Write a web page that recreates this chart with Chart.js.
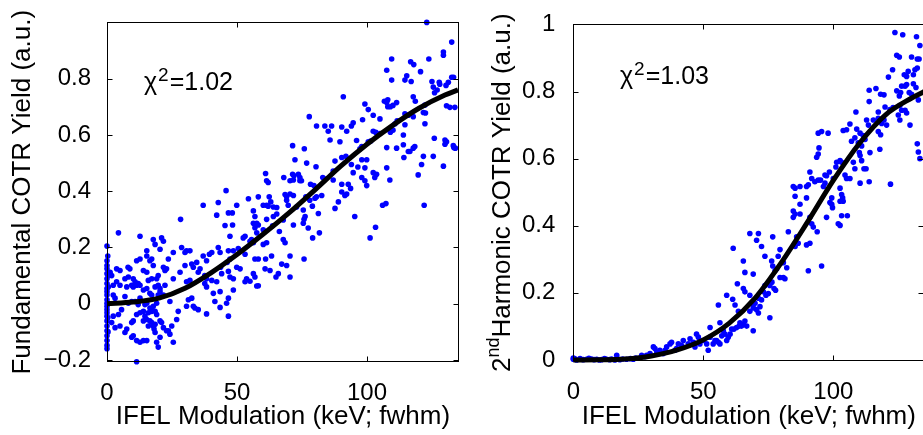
<!DOCTYPE html>
<html><head><meta charset="utf-8">
<script src="https://cdn.jsdelivr.net/npm/chart.js@4"></script>
<style>
html,body{margin:0;padding:0;background:#fff;overflow:hidden;width:923px;height:435px;position:relative}
#c1{position:absolute;left:0;top:0}
#c2{position:absolute;left:460px;top:0}
</style></head><body>
<canvas id="c1" width="470" height="435"></canvas>
<canvas id="c2" width="470" height="435"></canvas>
<script>
const FONT = "'Liberation Sans', Arial, Helvetica, sans-serif";

const xTicks = [0, 50, 100];
const fundYTicks = [-0.2, 0, 0.2, 0.4, 0.6, 0.8];
const harmYTicks = [0, 0.2, 0.4, 0.6, 0.8, 1];

const xTitle = 'IFEL Modulation (keV; fwhm)';
const fundYTitle = 'Fundamental COTR Yield (a.u.)';
const harmYTitleParts = ['2', 'nd', 'Harmonic COTR Yield (a.u.)'];
const fundChi = '=1.02';
const harmChi = '=1.03';

const fitX = [0, 10, 20, 30, 40, 50, 60, 70, 80, 90, 100, 110, 120, 130, 135];
const fundFitY = [0, 0.006, 0.02, 0.055, 0.11, 0.175, 0.247, 0.323, 0.405, 0.49, 0.567, 0.635, 0.695, 0.742, 0.760];
const harmFitY = [0, 0.0005, 0.003, 0.012, 0.03, 0.06, 0.11, 0.185, 0.29, 0.41, 0.535, 0.645, 0.73, 0.78, 0.80];

const fundPoints = [
[0,0.205],[0,0.153],[0,0.136],[0,0.124],[0,0.107],[0,0.089],[0,0.072],[0,0.054],[0,0.043],[0,0.031],[0,0.014],[0,0.002],[0,-0.009],[0,-0.021],[0,-0.032],[0,-0.044],[0,-0.061],[0,-0.079],[0,-0.096],[0,-0.114],[0,-0.131],[0,-0.148],[0,-0.16],
[0.4,0.1],[0.5,0.06],[0.4,-0.1],[0.3,0.17],[0.3,-0.05],
[123,1.0],[132.6,0.93],[129.4,0.895],[129.4,0.883],[109.5,0.87],[116.8,0.86],[118,0.85],[123.8,0.87],[107.6,0.83],[120.6,0.825],[132.6,0.805],[133.3,0.805],[115.3,0.81],[109.5,0.795],[114.6,0.795],[117,0.79],[125,0.79],[127.8,0.787],[131.3,0.787],[125.5,0.77],[128,0.78],[130.4,0.776],[126,0.75],[127,0.76],[90.9,0.736],[117.8,0.736],[106.7,0.72],[107.6,0.715],[108,0.725],[111.4,0.715],[118.6,0.72],[99.2,0.71],[108,0.70],[109,0.70],[110,0.705],[122.3,0.706],[130.6,0.704],[131.9,0.698],[133.8,0.698],[100.5,0.69],[121.7,0.68],[122.5,0.678],[114.6,0.675],[115.9,0.67],[117.8,0.665],[77.8,0.665],[102.4,0.67],[105,0.657],[98.3,0.654],[94.7,0.643],[111.6,0.65],[110.8,0.64],[94,0.632],[86.4,0.632],[83.8,0.632],[80.6,0.632],[90.3,0.628],[114.6,0.636],[122.3,0.64],[92.2,0.613],[85.1,0.613],[102.4,0.613],[103.4,0.609],[100.5,0.576],[101.4,0.578],[105,0.605],[114,0.60],[109,0.61],[110,0.617],[130,0.582],[130,0.567],[133.4,0.555],[134,0.553],[133.2,0.562],[125.9,0.588],[130.6,0.576],[85.8,0.582],[89.6,0.576],[96,0.58],[107.6,0.555],[111.4,0.553],[114,0.565],[117.8,0.553],[118.4,0.559],[115.9,0.541],[116.5,0.541],[114.2,0.52],[121.7,0.524],[125.5,0.524],[98,0.559],[97.3,0.551],[91.9,0.524],[90.3,0.52],[87.7,0.507],[99.9,0.512],[98,0.512],[94,0.495],[96.5,0.486],[99.2,0.483],[107.6,0.483],[121,0.495],[129.4,0.489],[87,0.472],[94.7,0.466],[102.4,0.466],[103.7,0.46],[119.7,0.458],[103,0.449],[98,0.449],[99.2,0.437],[108.8,0.44],[83,0.449],[83.8,0.443],[87,0.44],[90.3,0.425],[92.8,0.425],[99.9,0.42],[93.7,0.41],[90.3,0.397],[91.5,0.385],[92.2,0.39],[89,0.362],[87.7,0.339],[82.6,0.385],[80.6,0.38],[80,0.375],[79.6,0.42],[78.3,0.425],[81.3,0.321],[95.3,0.31],[103.3,0.272],[101.2,0.234],[106,0.35],[107.3,0.356],[122,0.35],
[71.4,0.562],[75.9,0.551],[72.3,0.512],[76.8,0.50],[80.4,0.487],[71.4,0.46],[71.9,0.455],[73.6,0.46],[74.2,0.449],[68,0.449],[74.2,0.437],[74.8,0.437],[70.4,0.437],[71.7,0.44],[61,0.463],[61.4,0.437],[62,0.431],[68.5,0.388],[70.4,0.39],[71.7,0.385],[76.5,0.38],[78,0.368],[69.1,0.38],[69.1,0.368],[69.7,0.35],[72.9,0.344],[75.5,0.333],[79,0.347],[54.4,0.373],[58.2,0.38],[62.4,0.38],[63,0.362],[60.1,0.35],[61.4,0.35],[62,0.347],[64,0.344],[65.3,0.342],[49.9,0.35],[37,0.35],[42.8,0.36],[42.2,0.315],[46.7,0.323],[48.2,0.323],[45.8,0.402],[28.3,0.30],[45.4,0.278],[48.3,0.28],[56.3,0.33],[56.9,0.31],[56.3,0.286],[57.6,0.286],[58.2,0.28],[61.4,0.30],[67.8,0.298],[64,0.31],[65.3,0.319],[63.7,0.277],[66.3,0.257],[60.1,0.263],[56.9,0.27],[57.6,0.252],[55.6,0.228],[55,0.222],[56.3,0.217],[53.1,0.24],[52.4,0.234],[60.1,0.211],[61.4,0.217],[67.8,0.228],[68.5,0.217],[71.7,0.28],[75.5,0.286],[77.4,0.269],[79.1,0.234],[81.7,0.252],[75.8,0.30],[76.2,0.31],[47.3,0.24],[42.8,0.2],[43.5,0.182],[40.3,0.182],[39.4,0.176],[46.7,0.188],[48.6,0.188],[50.5,0.196],[53.1,0.176],[56.9,0.159],[58.2,0.159],[61,0.159],[63.3,0.17],[67.2,0.141],[69.1,0.136],[70.4,0.17],[75.8,0.159],[70.4,0.095],[65.9,0.107],[65,0.095],[62.7,0.118],[60.8,0.124],[56.3,0.107],[56.9,0.095],[55,0.08],[57.6,0.063],[58.2,0.064],[53.7,0.089],[53.1,0.078],[51.2,0.124],[49.9,0.13],[46.2,0.147],[47.3,0.159],[43.7,0.13],[44.1,0.107],[46.7,0.115],[47.3,0.095],[48.6,0.089],[37,0.17],[38.3,0.153],[32.6,0.141],[33.2,0.13],[30,0.182],[30.6,0.188],[28.7,0.2],[31.9,0.188],[25.5,0.182],[23.6,0.159],[22.9,0.124],[30,0.136],[28.1,0.112],[25.5,0.089],[34.5,0.147],[35.8,0.124],[35.1,0.112],[37.6,0.1],[38.3,0.089],[40.3,0.083],[38.3,0.06],[37.6,0.072],[30.6,0.078],[31.9,0.083],[42.2,0.078],[40.9,0.037],[43.5,0.043],[41.5,0.008],[31.3,0.014],[32.6,0.02],[30.6,-0.009],[33.2,-0.009],[33.8,-0.015],[35.1,-0.021],[38.3,-0.036],[43.5,-0.013],[46,0.002],[46.7,0.02],[46.7,-0.044],[48.6,0.049],[27.4,-0.027],[26.8,-0.056],[24.9,-0.079],[25.5,-0.137],[23.6,-0.096],[24.2,-0.108],[21.7,-0.085],[22.9,-0.096],[20.4,-0.119],[19.7,-0.154],[19.1,-0.137],[18.5,-0.102],[18.1,-0.09],[17.2,-0.067],[15.9,-0.079],[15.3,-0.056],[16.5,-0.061],[14,-0.061],[14.6,-0.044],[12.7,-0.032],[11.4,-0.038],[10.1,-0.061],[9.5,-0.067],[11.4,-0.131],[12.7,-0.137],[14,-0.131],[15.3,-0.131],[10.1,-0.114],[9.5,-0.119],[7.6,-0.09],[6.9,-0.102],[5,-0.079],[3.1,-0.085],[4.4,-0.038],[5.6,-0.021],[11.4,-0.206],[3.1,0.02],[6.9,0.026],[8.2,0.002],[9.5,0.008],[10.8,0.008],[12,-0.003],[12.7,0.02],[14.6,-0.003],[15.3,0.002],[16.5,-0.015],[17.8,-0.009],[19.1,0.002],[19.7,0.031],[20.4,0.043],[21.7,0.031],[17.2,0.031],[16.5,0.037],[14,0.049],[15.3,0.054],[11.4,0.066],[12,0.072],[12.7,0.066],[9.5,0.066],[10.1,0.06],[7.6,0.06],[5,0.066],[3.7,0.078],[6.9,0.089],[8.2,0.095],[5,0.118],[3.7,0.124],[1.2,0.112],[4.4,0.252],[8.8,0.124],[8.1,0.13],[10.1,0.089],[10.8,0.078],[12.7,0.24],[11.4,0.153],[12.7,0.159],[14,0.118],[15.3,0.112],[15.3,0.188],[15.3,0.17],[16.5,0.153],[17.2,0.159],[17.8,0.136],[17.8,0.228],[18.5,0.211],[20.4,0.194],[21,0.234],[21.7,0.222],[21.7,0.13],[22.3,0.118],[19.7,0.1],[19.1,0.089],[15.9,0.083],[17.2,0.089],[18.5,0.06],[19.7,0.066],[20.4,0.054],[22.3,0.066],[24.2,0.008],[14,-0.027],[15.9,-0.032],[17.2,-0.027],[18.5,-0.027],[19.1,-0.038],[20.4,-0.061],[21,-0.067],[17.8,-0.079],[18.5,-0.073],[1.8,-0.067],[2.4,-0.044],[2.4,0.031],[2.4,0.066],[1.8,0.1]
];

const harmPoints = [
[0,0.002],[0,0.006],[0.5,0.004],[1.3,0],[2.6,0.004],[3.8,0.001],[5.1,0.002],[6,0.005],[7,0.003],[8,0.001],[9,0.002],[10,0],[10.9,0.001],[12,0.004],[12.8,0.002],[14,0.001],[14.7,0.003],[16,0.0],[16.7,0.014],[17.9,0.001],[19,0.003],[20.5,0.002],[22,0.004],[23.1,0.002],[24,0.006],[25.6,0.005],[26.3,0.014],[27.6,0.01],[28.2,0.014],[29.5,0.019],[30.8,0.039],[31.4,0.034],[32.1,0.024],[33.3,0.029],[34.6,0.019],[35.3,0.029],[35.9,0.039],[37.2,0.048],[37.8,0.053],[39.1,0.029],[39.7,0.034],[40.4,0.048],[41.7,0.043],[42.3,0.058],[44.2,0.048],[44.9,0.063],[46.2,0.053],[46.8,0.039],[47.4,0.077],[48.1,0.068],[48.7,0.048],[50,0.058],[51.3,0.048],[51.9,0.029],[52.6,0.068],[52.6,0.097],[53.8,0.048],[54.5,0.058],[55.1,0.058],[55.8,0.053],[56.4,0.048],[56.4,0.111],[57.1,0.072],[57.7,0.087],[58.3,0.077],[59,0.058],[59.6,0.068],[60.3,0.077],[60.9,0.092],[61.8,0.092],[62.8,0.097],[63.8,0.101],[64.1,0.111],[64.7,0.101],[65.4,0.106],[66,0.116],[66.7,0.101],[69.2,0.087],[63.5,0.145],[55.8,0.164],[59,0.193],[61.3,0.181],[62.2,0.164],[63.1,0.227],[65.4,0.213],[66,0.203],[67.9,0.193],[61.5,0.333],[65.4,0.295],[66,0.261],[69.2,0.256],[67.9,0.377],[70.5,0.357],[71.2,0.377],[72.4,0.338],[73.7,0.309],[76.3,0.295],[76.7,0.367],[69.2,0.164],[69.9,0.169],[71.8,0.159],[69.2,0.155],[70.5,0.15],[71.2,0.14],[67.9,0.145],[75.6,0.126],[72.4,0.179],[71.2,0.184],[74.1,0.193],[75,0.198],[73.7,0.222],[73.1,0.203],[77.2,0.213],[77.8,0.208],[76.4,0.232],[75.6,0.222],[79.5,0.246],[80.8,0.246],[81.4,0.242],[76.7,0.28],[77.6,0.266],[78.2,0.271],[80.8,0.29],[82.1,0.275],[78.8,0.309],[79.5,0.329],[82.7,0.382],[85.9,0.367],[86.5,0.348],[85.3,0.338],[91,0.348],[89.7,0.343],[93.8,0.382],[92.3,0.396],[91.7,0.406],[91,0.425],[84.6,0.444],[85.3,0.435],[84.6,0.425],[87.2,0.435],[87.2,0.464],[85.3,0.488],[89.7,0.483],[84.6,0.517],[85.3,0.512],[87.2,0.517],[89.7,0.517],[90.4,0.522],[91,0.56],[91.7,0.541],[92.9,0.531],[94.2,0.536],[95.1,0.536],[96.8,0.551],[97.4,0.549],[96.8,0.527],[96.2,0.517],[98.5,0.56],[100,0.541],[97.4,0.425],[95.5,0.28],[90.4,0.266],[94.2,0.614],[93.6,0.604],[94.5,0.632],[94.2,0.676],[95.5,0.681],[98,0.676],[99.4,0.483],[98.7,0.469],[99.4,0.464],[99.7,0.454],[102.6,0.473],[103.8,0.473],[103.2,0.43],[105.4,0.43],[101.9,0.406],[102.6,0.401],[102.6,0.512],[103.2,0.493],[103.6,0.483],[104.5,0.551],[105.1,0.541],[106.4,0.541],[101,0.575],[101.3,0.589],[102.6,0.594],[103.2,0.589],[107.7,0.589],[108.3,0.57],[111.8,0.57],[112.6,0.57],[113.8,0.531],[110.3,0.527],[122,0.524],[110,0.618],[110.3,0.609],[110.9,0.594],[114.1,0.618],[117.9,0.628],[107,0.652],[108.3,0.662],[109.6,0.647],[110.9,0.638],[111.5,0.669],[112.2,0.657],[117.3,0.681],[118.2,0.671],[106.4,0.703],[105.1,0.686],[103.8,0.684],[109,0.688],[110.3,0.676],[108.7,0.739],[112.8,0.715],[113.5,0.70],[115.4,0.715],[117.3,0.72],[118.6,0.705],[119.5,0.715],[117.3,0.739],[120.5,0.70],[125,0.73],[125.6,0.715],[129.5,0.70],[119.9,0.754],[121.8,0.746],[123,0.752],[125.6,0.758],[126.3,0.744],[127.6,0.744],[128.2,0.736],[113.8,0.77],[132.7,0.775],[113.8,0.804],[116.4,0.809],[118.2,0.792],[119.5,0.79],[124.4,0.802],[125.9,0.797],[125.4,0.787],[129.2,0.797],[130.1,0.792],[126.3,0.816],[127.6,0.816],[128.2,0.821],[130.8,0.823],[131.8,0.812],[121.2,0.843],[128.2,0.845],[130.8,0.85],[127.3,0.85],[128.8,0.86],[131.4,0.865],[132.3,0.87],[122.8,0.865],[124.4,0.908],[125.4,0.903],[130.1,0.903],[132.3,0.897],[133,0.897],[133.3,0.937],[132,0.963],[123.7,0.976],[126.7,0.969],[132.3,0.644],[132.7,0.62],[133.3,0.6]
];

function fmtTick(v) {
  if (Math.abs(v) < 1e-9) return '0';
  const s = String(Math.round(v * 10) / 10);
  return s.replace('-', '\u2212');
}

const framePlugin = {
  id: 'frame',
  afterDatasetsDraw(chart, args, opts) {
    const {ctx, chartArea: a, scales: {x, y}} = chart;
    ctx.save();
    ctx.strokeStyle = '#000';
    ctx.lineWidth = 1;
    const L = Math.round(a.left) + 0.5, R = Math.round(a.right) - 0.5;
    const T = Math.round(a.top) + 0.5, B = Math.round(a.bottom) - 0.5;
    ctx.strokeRect(L, T, R - L, B - T);
    ctx.beginPath();
    x.ticks.forEach(t => {
      const p = Math.round(x.getPixelForValue(t.value)) + 0.5;
      ctx.moveTo(p, B); ctx.lineTo(p, B - 5);
      ctx.moveTo(p, T); ctx.lineTo(p, T + 5);
    });
    y.ticks.forEach(t => {
      const p = Math.round(y.getPixelForValue(t.value)) + 0.5;
      ctx.moveTo(L, p); ctx.lineTo(L + 5, p);
      ctx.moveTo(R, p); ctx.lineTo(R - 5, p);
    });
    ctx.stroke();

    // chi-square label
    ctx.fillStyle = '#000';
    ctx.textAlign = 'left';
    ctx.textBaseline = 'alphabetic';
    let cx = opts.chiX;
    ctx.font = `25px ${FONT}`;
    ctx.fillText('\u03c7', cx, opts.chiY);
    cx += ctx.measureText('\u03c7').width + 1;
    ctx.font = `19px ${FONT}`;
    ctx.fillText('2', cx, opts.chiY - 9);
    cx += ctx.measureText('2').width + 1;
    ctx.font = `25px ${FONT}`;
    ctx.fillText(opts.chiText, cx, opts.chiY);

    if (opts.yParts) {
      ctx.save();
      ctx.translate(opts.yTitleX, opts.yTitleY);
      ctx.rotate(-Math.PI / 2);
      ctx.textBaseline = 'middle';
      ctx.font = `26px ${FONT}`;
      ctx.fillText(opts.yParts[0], 0, 0);
      let w = ctx.measureText(opts.yParts[0]).width;
      ctx.font = `18px ${FONT}`;
      ctx.fillText(opts.yParts[1], w, -9);
      w += ctx.measureText(opts.yParts[1]).width;
      ctx.font = `26px ${FONT}`;
      ctx.fillText(opts.yParts[2], w, 0);
      ctx.restore();
    }
    ctx.restore();
  }
};

function makeChart(id, cfg) {
  return new Chart(document.getElementById(id), {
    type: 'scatter',
    data: {
      datasets: [
        {
          type: 'line',
          data: fitX.map((xv, i) => ({x: xv, y: cfg.fitY[i]})),
          borderColor: '#000', borderWidth: 5, pointRadius: 0,
          cubicInterpolationMode: 'monotone', fill: false, clip: false
        },
        {
          data: cfg.points.map(p => ({x: p[0], y: p[1]})),
          backgroundColor: '#0000ff', borderWidth: 0, pointRadius: 2.8, clip: false
        }
      ]
    },
    options: {
      responsive: false, animation: false, events: [],
      layout: {padding: {left: 0, top: 15, right: cfg.padRight, bottom: 0}},
      plugins: {
        legend: {display: false}, tooltip: {enabled: false},
        frame: cfg.frame
      },
      scales: {
        x: {
          type: 'linear', min: 0, max: cfg.xMax,
          grid: {display: false}, border: {display: false},
          afterBuildTicks: s => { s.ticks = xTicks.map(v => ({value: v})); },
          afterFit: s => { s.height = cfg.xH; },
          ticks: {padding: 9, color: '#000', font: {family: FONT, size: 24}, maxRotation: 0, autoSkip: false,
                  callback: v => fmtTick(v)},
          title: {display: true, text: xTitle, color: '#000', font: {family: FONT, size: 26},
                  padding: {top: 0, bottom: 3}}
        },
        y: {
          type: 'linear', min: cfg.yMin, max: cfg.yMax,
          grid: {display: false}, border: {display: false},
          afterBuildTicks: s => { s.ticks = cfg.yTicks.map(v => ({value: v})); },
          afterFit: s => { s.width = cfg.yW; },
          ticks: {padding: cfg.yPad, color: '#000', font: {family: FONT, size: 24}, autoSkip: false,
                  callback: v => fmtTick(v)},
          title: {display: !!cfg.yTitle, text: cfg.yTitle || '', color: '#000', font: {family: FONT, size: 26},
                  padding: {top: 7, bottom: 0}}
        }
      }
    },
    plugins: [framePlugin]
  });
}

makeChart('c1', {
  fitY: fundFitY, points: fundPoints, xMax: 135.4, yMin: -0.207, yMax: 1.0,
  yTicks: fundYTicks, yTitle: fundYTitle, padRight: 11, xH: 73, yW: 107, yPad: 8,
  frame: {chiX: 144, chiY: 89.5, chiText: fundChi}
});
makeChart('c2', {
  fitY: harmFitY, points: harmPoints, xMax: 135, yMin: -0.003, yMax: 1.0,
  yTicks: harmYTicks, yTitle: null, padRight: 5.7, xH: 74, yW: 113.3, yPad: 10,
  frame: {chiX: 160, chiY: 83.5, chiText: harmChi, yParts: harmYTitleParts, yTitleX: 43, yTitleY: 372}
});
</script>
</body></html>
